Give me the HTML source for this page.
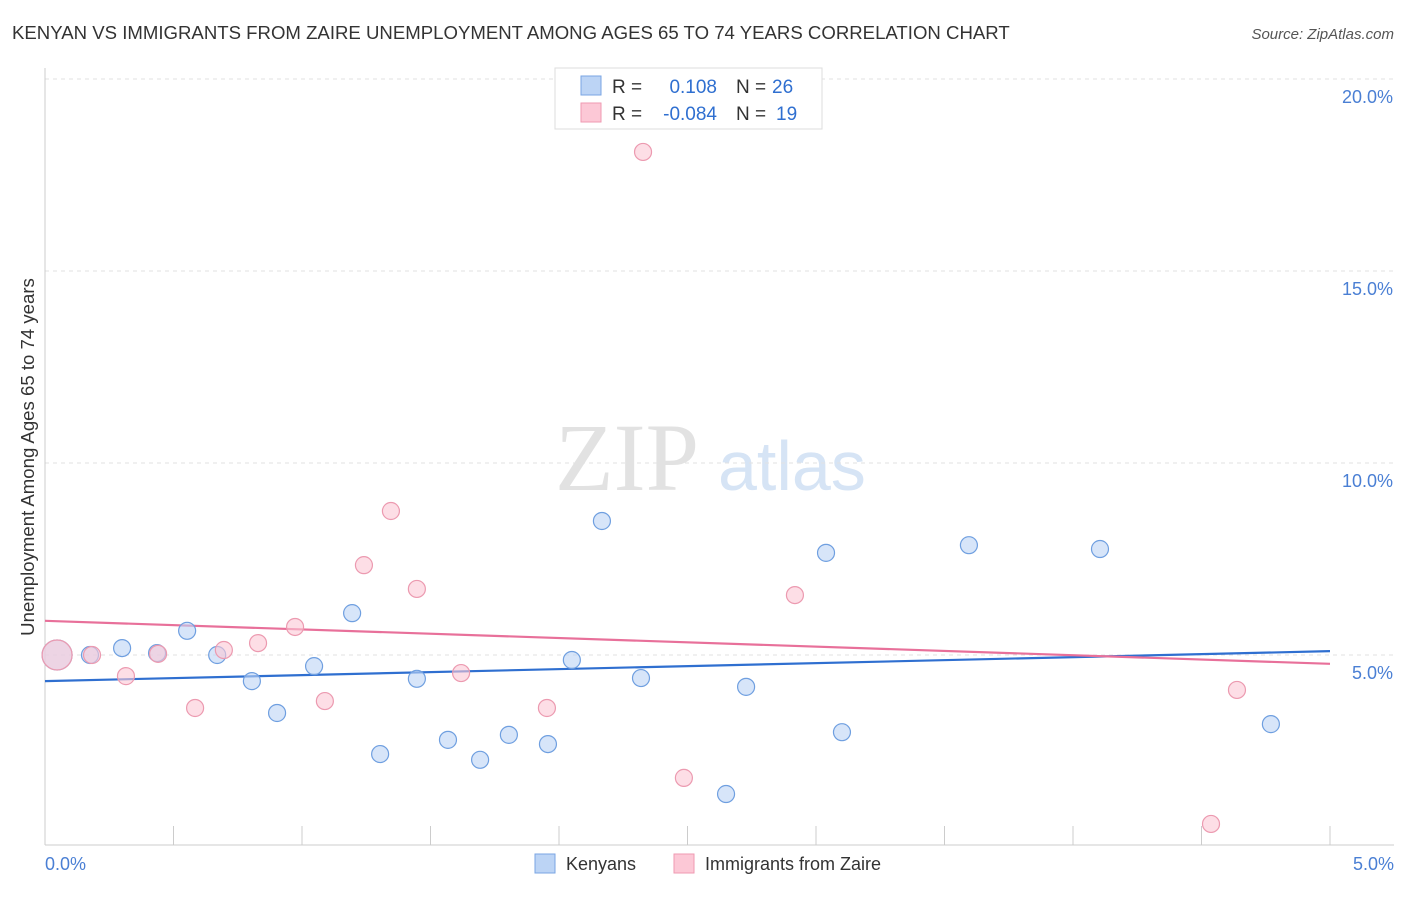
<!DOCTYPE html>
<html><head><meta charset="utf-8"><style>
body{margin:0;background:#fff;font-family:"Liberation Sans",sans-serif;}
</style></head><body>
<svg id="chart" width="1406" height="892" xmlns="http://www.w3.org/2000/svg" font-family="Liberation Sans, sans-serif">
<text x="12" y="39" font-size="18.6" fill="#333">KENYAN VS IMMIGRANTS FROM ZAIRE UNEMPLOYMENT AMONG AGES 65 TO 74 YEARS CORRELATION CHART</text>
<text x="1394" y="39" font-size="15" fill="#555" font-style="italic" text-anchor="end">Source: ZipAtlas.com</text>
<text x="555" y="490" font-size="96" fill="#e2e2e2" font-family="Liberation Serif, serif">ZIP</text>
<text x="718" y="490" font-size="70" fill="#d6e4f5">atlas</text>
<g id="grid"></g><g id="axes"></g><g id="trend"></g><g id="pts"></g>
<text transform="translate(34,457) rotate(-90)" font-size="18.6" fill="#333" text-anchor="middle">Unemployment Among Ages 65 to 74 years</text>
<text x="45" y="870" font-size="18" fill="#4a7fd4">0.0%</text>
<text x="1394" y="870" font-size="18" fill="#4a7fd4" text-anchor="end">5.0%</text>
<g>
<rect x="555" y="68" width="267" height="61" fill="#fff" stroke="#ddd"/>
<rect x="581" y="76" width="20" height="19" fill="#bcd4f5" stroke="#7aa5e3"/>
<rect x="581" y="103" width="20" height="19" fill="#fcc8d6" stroke="#ef9ab2"/>
<text x="612" y="93" font-size="19" fill="#333">R =</text>
<text x="717" y="93" font-size="19" fill="#2f6fd0" text-anchor="end">0.108</text>
<text x="736" y="93" font-size="19" fill="#333">N =</text>
<text x="772" y="93" font-size="19" fill="#2f6fd0">26</text>
<text x="612" y="120" font-size="19" fill="#333">R =</text>
<text x="717" y="120" font-size="19" fill="#2f6fd0" text-anchor="end">-0.084</text>
<text x="736" y="120" font-size="19" fill="#333">N =</text>
<text x="776" y="120" font-size="19" fill="#2f6fd0">19</text>
</g>
<g>
<rect x="535" y="854" width="20" height="19" fill="#bcd4f5" stroke="#7aa5e3"/>
<text x="566" y="870" font-size="18" fill="#333">Kenyans</text>
<rect x="674" y="854" width="20" height="19" fill="#fcc8d6" stroke="#ef9ab2"/>
<text x="705" y="870" font-size="18" fill="#333">Immigrants from Zaire</text>
</g>
</svg>
<script>
const yTicks=[5,10,15,20];
const yTickLabels=["5.0%","10.0%","15.0%","20.0%"];
const xTicks=[0,0.5,1,1.5,2,2.5,3,3.5,4,4.5,5];
const blueX=[0.047,0.175,0.30,0.436,0.553,0.67,0.805,0.903,1.047,1.195,1.304,1.447,1.568,1.693,1.805,1.957,2.05,2.167,2.319,2.65,2.728,3.039,3.101,3.595,4.105,4.77];
const blueY=[5.0,5.0,5.18,5.05,5.63,5.0,4.32,3.49,4.71,6.09,2.42,4.38,2.79,2.27,2.92,2.68,4.87,8.49,4.40,1.38,4.17,7.66,2.99,7.86,7.76,3.20];
const pinkX=[0.047,0.183,0.315,0.44,0.584,0.696,0.829,0.973,1.089,1.241,1.346,1.447,1.619,1.953,2.327,2.486,2.918,4.638,4.537];
const pinkY=[5.0,5.0,4.45,5.03,3.62,5.13,5.31,5.73,3.80,7.34,8.75,6.72,4.53,3.62,18.1,1.80,6.56,4.09,0.60];
const blueTrend=[4.32,5.10];
const pinkTrend=[5.89,4.77];
const NS="http://www.w3.org/2000/svg";
const xs=v=>45+v/5*1285, ys=v=>847-v/20*768;
function mk(p,t,a){const e=document.createElementNS(NS,t);for(const k in a)e.setAttribute(k,a[k]);document.getElementById(p).appendChild(e);return e;}
yTicks.forEach((t,i)=>{
 const l=mk('grid','line',{x1:45,x2:1394,y1:ys(t),y2:ys(t),stroke:'#e2e2e2','stroke-dasharray':'4,4'});
 
 
 const tx=mk('grid','text',{x:1393,y:ys(t)+24,'font-size':18,fill:'#4a7fd4','text-anchor':'end'});
 tx.textContent=yTickLabels[i];
 
 
});
const ax=mk('axes','line',{x1:45,x2:45,y1:68,y2:845,stroke:'#ccc'});


const bx=mk('axes','line',{x1:45,x2:1394,y1:845,y2:845,stroke:'#ccc'});


xTicks.forEach(t=>{
 const l=mk('axes','line',{x1:xs(t),x2:xs(t),y1:826,y2:845,stroke:'#ccc'});
 
 
});
function pts(X,Y,fill,stroke,name){
 X.forEach((x,i)=>{
  const big=i===0;
  const c=mk('pts','circle',{cx:xs(x),cy:ys(Y[i]),r:big?15:8.5,fill:fill,'fill-opacity':0.6,stroke:stroke,'stroke-width':1.2});
  
  
 });
}
pts(blueX,blueY,'#bcd4f5','#6f9fe0','kenyan-point');
pts(pinkX,pinkY,'#fcc8d6','#ec9ab0','zaire-point');
const t1=mk('trend','line',{x1:xs(0),x2:xs(5),y1:ys(blueTrend[0]),y2:ys(blueTrend[1]),stroke:'#2f6fd0','stroke-width':2.2});


const t2=mk('trend','line',{x1:xs(0),x2:xs(5),y1:ys(pinkTrend[0]),y2:ys(pinkTrend[1]),stroke:'#e8709a','stroke-width':2.2});


</script>
</body></html>
